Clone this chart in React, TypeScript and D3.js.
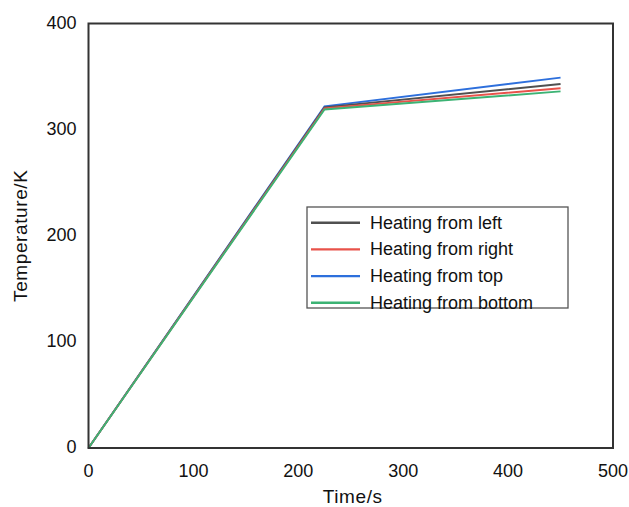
import { useEffect, useRef } from "react";
import * as d3 from "d3";

const times = [0, 225, 450];
const seriesNames = ["Heating from left", "Heating from right", "Heating from top", "Heating from bottom"];
const leftTemps = [0, 321, 343];
const rightTemps = [0, 320, 339];
const topTemps = [0, 322, 349];
const bottomTemps = [0, 319, 336];
const seriesColors = ["#505050", "#e8524a", "#2d6fdc", "#3cb374"];
const xTicks = [0, 100, 200, 300, 400, 500];
const yTicks = [0, 100, 200, 300, 400];

const App = () => {
  const ref = useRef<SVGSVGElement | null>(null);

  useEffect(() => {
    if (!ref.current) return;
    const svg = d3.select(ref.current);
    svg.selectAll("*").remove();

    const margin = { top: 23.5, right: 16, bottom: 59, left: 88.5 };
    const W = 629, H = 507;
    const width = W - margin.left - margin.right;
    const height = H - margin.top - margin.bottom;
    const font = "'Liberation Sans', Arial, sans-serif";

    const g = svg.append("g").attr("transform", `translate(${margin.left},${margin.top})`);

    const x = d3.scaleLinear().domain([0, 500]).range([0, width]);
    const y = d3.scaleLinear().domain([0, 400]).range([height, 0]);

    // series
    const allSeries = [leftTemps, rightTemps, topTemps, bottomTemps];
    const line = d3.line<number>().x((_, i) => x(times[i])).y((d) => y(d));
    // draw order so green ends on top at the bottom-left
    [2, 0, 1, 3].forEach((k) => {
      g.append("path")
        .datum(allSeries[k])
        .attr("fill", "none")
        .attr("stroke", seriesColors[k])
        .attr("stroke-width", 1.9)
        .attr("d", line);
    });

    // frame
    g.append("rect")
      .attr("width", width)
      .attr("height", height)
      .attr("fill", "none")
      .attr("stroke", "#333")
      .attr("stroke-width", 2);

    // tick labels
    g.selectAll(".xt")
      .data(xTicks)
      .enter()
      .append("text")
      .attr("x", (d) => x(d))
      .attr("y", height + 28.5)
      .attr("text-anchor", "middle")
      .style("font-family", font)
      .style("font-size", "18px")
      .style("fill", "#111")
      .text((d) => d);

    g.selectAll(".yt")
      .data(yTicks)
      .enter()
      .append("text")
      .attr("x", -12)
      .attr("y", (d) => y(d) + 5)
      .attr("text-anchor", "end")
      .style("font-family", font)
      .style("font-size", "18px")
      .style("fill", "#111")
      .text((d) => d);

    // axis titles
    g.append("text")
      .attr("x", width / 2 + 2)
      .attr("y", height + 55)
      .attr("text-anchor", "middle")
      .style("font-family", font)
      .style("font-size", "19px")
      .style("letter-spacing", "0.6px")
      .style("fill", "#111")
      .text("Time/s");

    g.append("text")
      .attr("transform", `translate(-62,${height / 2}) rotate(-90)`)
      .attr("text-anchor", "middle")
      .style("font-family", font)
      .style("font-size", "19px")
      .style("letter-spacing", "0.6px")
      .style("fill", "#111")
      .text("Temperature/K");

    // legend
    const lg = svg.append("g").attr("transform", "translate(307,207)");
    lg.append("rect")
      .attr("width", 261)
      .attr("height", 101)
      .attr("fill", "#fff")
      .attr("stroke", "#555")
      .attr("stroke-width", 1.3);
    seriesNames.forEach((name, i) => {
      const cy = 15.7 + i * 26.7;
      lg.append("line")
        .attr("x1", 4)
        .attr("x2", 53)
        .attr("y1", cy)
        .attr("y2", cy)
        .attr("stroke", seriesColors[i])
        .attr("stroke-width", 2.4);
      lg.append("text")
        .attr("x", 63)
        .attr("y", cy + 5.8)
        .style("font-family", font)
        .style("font-size", "18px")
        .style("fill", "#111")
        .text(name);
    });
  }, []);

  return (
    <svg
      ref={ref}
      width={629}
      height={507}
      style={{ position: "absolute", left: 0, top: 0, background: "#fff" }}
    />
  );
};

export default App;
